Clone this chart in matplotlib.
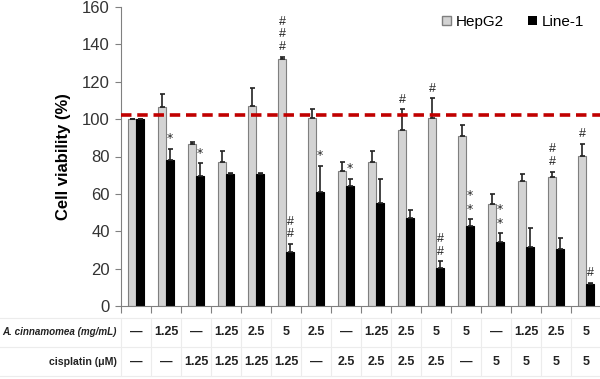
import numpy as np
import matplotlib.pyplot as plt
import matplotlib.transforms as mtransforms
from matplotlib.patches import Patch

plt.rcParams['font.family'] = ['Liberation Sans Narrow', 'Liberation Sans', 'DejaVu Sans']

# values
hepg2 = [100, 106.6, 86.7, 76.9, 107.0, 132.0, 100.4, 72.0,
         76.9, 94.2, 100.4, 91.0, 54.6, 67.0, 68.8, 80.4]
hepg2_err = [0, 7.0, 0.8, 5.9, 9.5, 1.5, 5.2, 4.9,
             5.9, 11.0, 10.7, 6.0, 5.2, 3.5, 3.1, 6.4]
line1 = [100, 78.3, 69.7, 70.6, 70.6, 29.1, 60.8, 64.2,
         55.3, 46.9, 20.2, 42.8, 34.4, 31.7, 30.3, 11.9]
line1_err = [0, 5.7, 6.6, 0.7, 0.7, 4.1, 14.1, 3.7,
             12.5, 4.5, 3.7, 3.6, 4.5, 10.2, 5.9, 0.6]
hepg2_marks = ['', '', '', '', '', '###', '', '',
               '', '#', '#', '', '', '', '##', '#']
line1_marks = ['', '*', '*', '', '', '##', '*', '*',
               '', '', '##', '**', '**', '', '', '#']
acin = ['—', '1.25', '—', '1.25', '2.5', '5', '2.5', '—',
        '1.25', '2.5', '5', '5', '—', '1.25', '2.5', '5']
cis = ['—', '—', '1.25', '1.25', '1.25', '1.25', '—', '2.5',
       '2.5', '2.5', '2.5', '—', '5', '5', '5', '5']
ref_line = 102

fig = plt.figure(figsize=(6.0, 3.79), dpi=100)
ax = fig.add_axes([121 / 600, 1 - 306 / 379, 480 / 600, 299 / 379])

n = len(hepg2)
x = np.arange(n) + 0.5
w = 0.27
errkw = dict(ecolor='#222222', elinewidth=1.2, capsize=1.8, capthick=1.2)
ax.bar(x - w / 2, hepg2, w, color='#d3d3d3', edgecolor='#7f7f7f', linewidth=0.8,
       yerr=[np.zeros(n), hepg2_err], error_kw=errkw, label='HepG2', zorder=2)
ax.bar(x + w / 2, line1, w, color='black', edgecolor='black', linewidth=0.8,
       yerr=[np.zeros(n), line1_err], error_kw=errkw, label='Line-1', zorder=2)

ax.axhline(ref_line, color='#c00000', linestyle=(0, (2.9, 1.6)), linewidth=2.6, zorder=3)

# significance marks, stacked vertically
for i in range(n):
    for vals, errs, marks, off in ((hepg2, hepg2_err, hepg2_marks, -w / 2),
                                   (line1, line1_err, line1_marks, w / 2)):
        m = marks[i]
        if not m:
            continue
        top = vals[i] + errs[i] + 2.0
        step = 6.7 if m[0] == '#' else 7.5
        for k, ch in enumerate(m):
            ax.text(x[i] + off, top + k * step, ch, ha='center', va='bottom',
                    fontsize=9, color='#222222',
                    family='DejaVu Sans' if ch == '*' else None)

ax.set_xlim(0, n)
ax.set_ylim(0, 160)
ax.set_yticks(np.arange(0, 161, 20))
ax.set_xticks(np.arange(0, n + 1))
ax.set_xticklabels([])
ax.tick_params(axis='x', length=5, direction='out', color='#808080')
ax.tick_params(axis='y', length=4, direction='out', color='#808080',
               labelsize=12, labelcolor='#333333', pad=4)
for s in ('top', 'right'):
    ax.spines[s].set_visible(False)
for s in ('left', 'bottom'):
    ax.spines[s].set_color('#808080')
ax.set_ylabel('Cell viability (%)', fontsize=12, fontweight='bold',
              family='Liberation Sans', labelpad=8)

ax.legend(handles=[Patch(facecolor='#d3d3d3', edgecolor='#7f7f7f', label='HepG2'),
                   Patch(facecolor='black', label='Line-1')],
          loc='upper left', bbox_to_anchor=(0.64, 1.02), ncol=2, frameon=False,
          fontsize=11, handlelength=0.6, handleheight=0.6, handletextpad=0.3,
          columnspacing=1.6)

# table under the axis
tr = mtransforms.blended_transform_factory(ax.transData, fig.transFigure)
row_y = [1 - 332 / 379, 1 - 362 / 379]
for i in range(n):
    fig.text(x[i], row_y[0], acin[i], transform=tr, ha='center', va='center',
             fontsize=9, fontweight='bold', color='#222222')
    fig.text(x[i], row_y[1], cis[i], transform=tr, ha='center', va='center',
             fontsize=9, fontweight='bold', color='#222222')
fig.text(117 / 600, row_y[0], 'A. cinnamomea (mg/mL)', ha='right', va='center',
         fontsize=7.1, fontweight='bold', style='italic', color='#222222',
         family='Liberation Sans')
fig.text(117 / 600, row_y[1], 'cisplatin (μM)', ha='right', va='center',
         fontsize=7.6, fontweight='bold', color='#222222', family='Liberation Sans')

gridc = '#ececec'
for yy in (318, 347, 376):
    fig.add_artist(plt.Line2D([0, 1], [1 - yy / 379] * 2, color=gridc, linewidth=0.8))
for i in range(n + 1):
    fig.add_artist(plt.Line2D([x[0] - 0.5 + i] * 2, [1 - 318 / 379, 1 - 376 / 379],
                              color=gridc, linewidth=0.8, transform=tr))

fig.savefig('out.png', dpi=100)
